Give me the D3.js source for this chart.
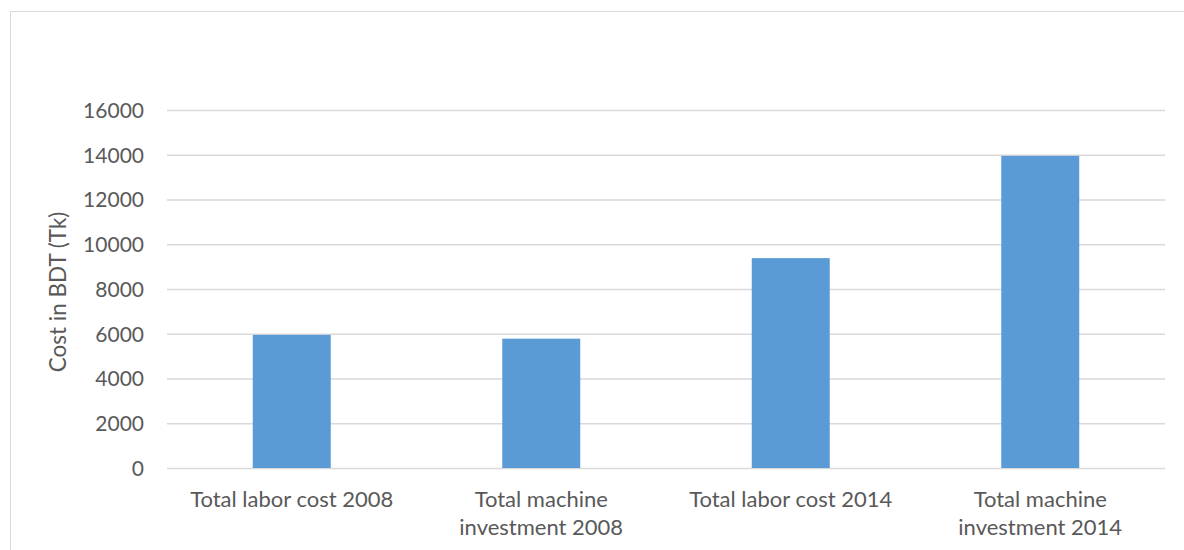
<!DOCTYPE html>
<html>
<head>
<meta charset="utf-8">
<script src="https://cdn.jsdelivr.net/npm/d3@7"></script>
<style>
  body { margin: 0; background: #fff; }
  svg text { font-family: Lato, "Open Sans", sans-serif; fill: #595959; }
</style>
</head>
<body>
<script>
'use strict';

// chart values
const categories = [
  ["Total labor cost 2008"],
  ["Total machine", "investment 2008"],
  ["Total labor cost 2014"],
  ["Total machine", "investment 2014"]
];
const costs = [5950, 5780, 9380, 13950];
const yTicks = [0, 2000, 4000, 6000, 8000, 10000, 12000, 14000, 16000];
const yTitle = "Cost in BDT (Tk)";

const width = 1184, height = 550;
const plot = { left: 167, right: 1165, top: 110, bottom: 468 };

let svg = d3.select('body')
  .append('svg')
  .attr('width', width)
  .attr('height', height);

// outer chart border (right and bottom run off the picture)
svg.append('rect')
  .attr('x', 10.5)
  .attr('y', 11.5)
  .attr('width', 1200)
  .attr('height', 600)
  .attr('fill', 'none')
  .attr('stroke', '#d9d9d9');

let xScale = d3.scaleBand()
  .domain(d3.range(categories.length))
  .range([plot.left, plot.right]);

let yScale = d3.scaleLinear()
  .domain([0, 16000])
  .range([plot.bottom, plot.top]);

// gridlines and y tick labels
let yAxis = d3.axisLeft(yScale)
  .tickValues(yTicks)
  .tickSize(-(plot.right - plot.left))
  .tickPadding(23)
  .tickFormat(d3.format('d'));

let gy = svg.append('g')
  .attr('transform', `translate(${plot.left}, 0)`)
  .call(yAxis);
gy.select('.domain').remove();
gy.selectAll('line').attr('stroke', '#d9d9d9').attr('stroke-width', 1.3);
gy.selectAll('text')
  .style('font-size', '21px')
  .attr('fill', '#595959')
  .attr('dy', '0.35em');

// bars
let barW = xScale.bandwidth() * 0.3126;
svg.selectAll('.bar')
  .data(costs)
  .enter()
  .append('rect')
  .attr('class', 'bar')
  .attr('x', (d, i) => xScale(i) + xScale.bandwidth() / 2 - barW / 2)
  .attr('y', d => yScale(d))
  .attr('width', barW)
  .attr('height', d => yScale(0) - yScale(d))
  .attr('fill', '#5b9bd5');

// category labels
let labels = svg.selectAll('.cat')
  .data(categories)
  .enter()
  .append('text')
  .attr('class', 'cat')
  .attr('text-anchor', 'middle')
  .style('font-size', '22px')
  .attr('y', 507);
labels.each(function(lines, i) {
  let t = d3.select(this);
  lines.forEach((line, j) => {
    t.append('tspan')
      .attr('x', xScale(i) + xScale.bandwidth() / 2)
      .attr('dy', j === 0 ? 0 : 28)
      .text(line);
  });
});

// y axis title
svg.append('text')
  .attr('transform', 'translate(66, 292) rotate(-90)')
  .attr('text-anchor', 'middle')
  .style('font-size', '22.5px')
  .text(yTitle);
</script>
</body>
</html>
